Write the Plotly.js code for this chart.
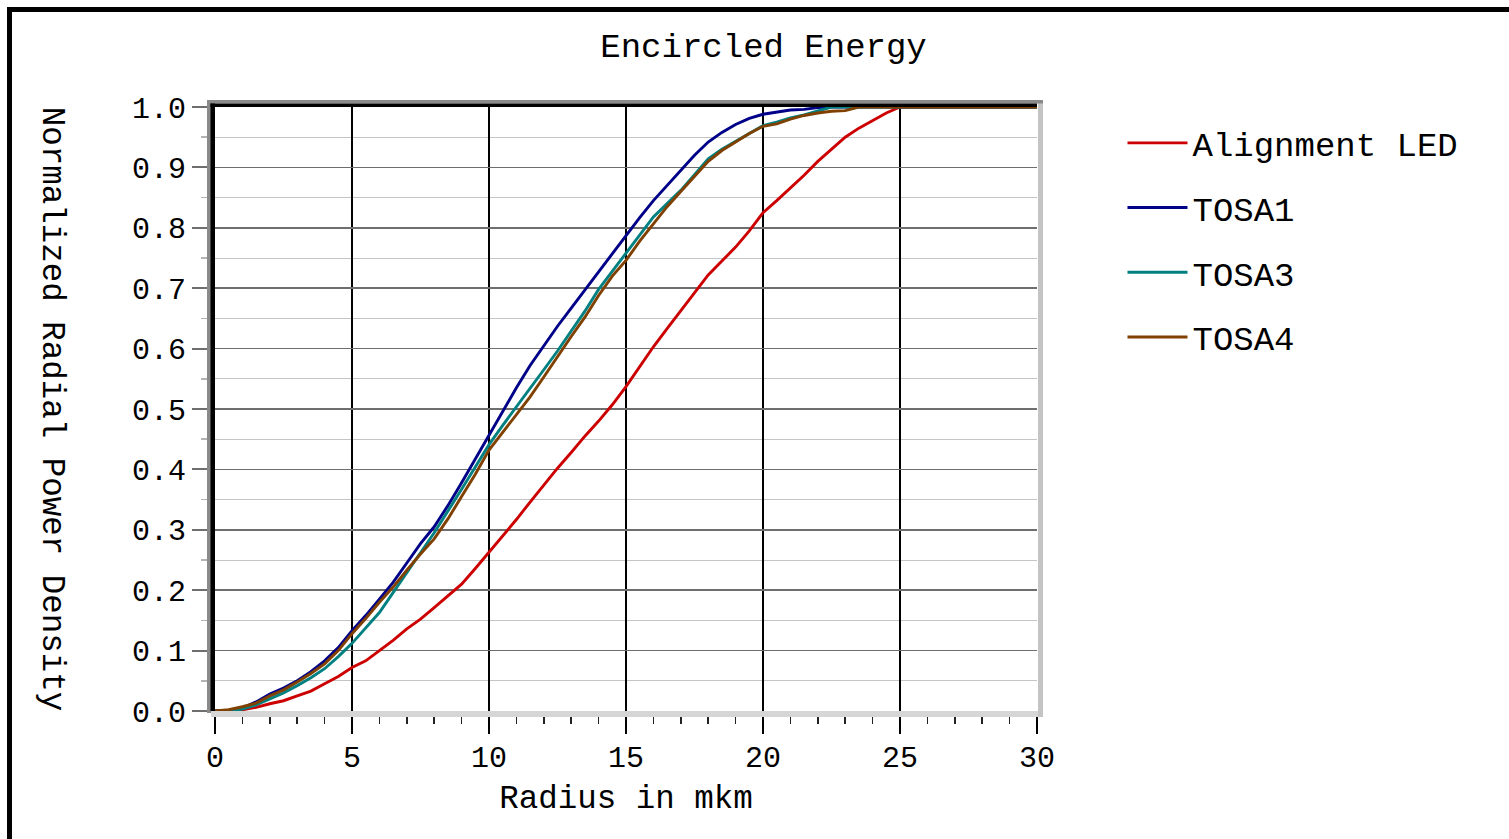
<!DOCTYPE html>
<html>
<head>
<meta charset="utf-8">
<script src="https://cdn.plot.ly/plotly-3.0.1.min.js"></script>
<style>
  html, body { margin: 0; padding: 0; background: #ffffff; overflow: hidden; }
  #chart { position: absolute; left: 0; top: 0; width: 1509px; height: 839px; }
  #frame { position: absolute; left: 7px; top: 7px; width: 3000px; height: 3000px;
           border-left: 5px solid #000; border-top: 5px solid #000; pointer-events: none; }
</style>
</head>
<body>
<div id="chart"></div>
<div id="frame"></div>
<script>
// Radius (mkm) sample positions
const radius = [0,0.5,1,1.5,2,2.5,3,3.5,4,4.5,5,5.5,6,6.5,7,7.5,8,8.5,9,9.5,10,10.5,11,11.5,12,12.5,13,13.5,14,14.5,15,15.5,16,16.5,17,17.5,18,18.5,19,19.5,20,20.5,21,21.5,22,22.5,23,23.5,24,24.5,25,25.5,26,27,28,29,30];

const alignmentLED = [0,0,0.002,0.006,0.012,0.017,0.025,0.033,0.045,0.057,0.072,0.083,0.1,0.117,0.136,0.152,0.171,0.19,0.21,0.236,0.263,0.29,0.317,0.346,0.374,0.402,0.428,0.455,0.48,0.507,0.537,0.57,0.603,0.633,0.662,0.692,0.722,0.745,0.768,0.795,0.825,0.845,0.866,0.887,0.91,0.93,0.95,0.965,0.977,0.99,1.0,1.0,1.0,1.0,1.0,1.0,1.0];

const tosa1 = [0,0,0.005,0.015,0.028,0.038,0.05,0.065,0.083,0.105,0.133,0.158,0.185,0.213,0.245,0.277,0.305,0.34,0.378,0.417,0.456,0.497,0.535,0.572,0.605,0.637,0.667,0.697,0.729,0.759,0.788,0.817,0.845,0.87,0.895,0.92,0.942,0.958,0.971,0.981,0.988,0.992,0.995,0.996,0.999,1.0,1.0,1.0,1.0,1.0,1.0,1.0,1.0,1.0,1.0,1.0,1.0];

const tosa3 = [0,0,0.003,0.01,0.02,0.03,0.042,0.055,0.07,0.09,0.112,0.137,0.163,0.196,0.23,0.262,0.295,0.33,0.367,0.404,0.441,0.473,0.503,0.535,0.565,0.596,0.628,0.662,0.698,0.728,0.757,0.789,0.818,0.84,0.862,0.888,0.914,0.93,0.943,0.955,0.969,0.975,0.982,0.987,0.993,1.0,1.0,1.0,1.0,1.0,1.0,1.0,1.0,1.0,1.0,1.0,1.0];

const tosa4 = [0,0.002,0.007,0.013,0.025,0.035,0.048,0.062,0.078,0.1,0.128,0.153,0.18,0.205,0.233,0.26,0.285,0.318,0.355,0.392,0.432,0.461,0.49,0.52,0.553,0.587,0.62,0.652,0.688,0.72,0.746,0.778,0.807,0.835,0.86,0.885,0.91,0.928,0.942,0.956,0.968,0.972,0.98,0.986,0.99,0.993,0.994,1.0,1.0,1.0,1.0,1.0,1.0,1.0,1.0,1.0,1.0];

const seriesNames = ["Alignment LED", "TOSA1", "TOSA3", "TOSA4"];
const seriesValues = [alignmentLED, tosa1, tosa3, tosa4];
const seriesColors = ["#cc0000", "#000088", "#008080", "#804000"];

const titleText = "Encircled Energy";
const xTitleText = "Radius in mkm";
const yTitleText = "Normalized Radial Power Density";

const FONT = "Liberation Mono, DejaVu Sans Mono, monospace";

const traces = seriesNames.map((name, i) => ({
  type: "scatter",
  mode: "lines",
  name: name,
  legendgroup: "g" + i,
  x: radius,
  y: seriesValues[i],
  line: { color: seriesColors[i], width: 2.9 },
  hoverinfo: "skip"
}));

function pxRect(xa, x0, x1, ya, y0, y1, color) {
  return { type: "rect", xref: "paper", yref: "paper",
    xsizemode: "pixel", ysizemode: "pixel", xanchor: xa, yanchor: ya,
    x0: x0, x1: x1, y0: y0, y1: y1,
    fillcolor: color, line: { width: 0 }, layer: "above" };
}

const W = 822, H = 604;
const shapes = [
  pxRect(0, -4, W + 6, 0, -6, 0, "#d6d6d6"),
  pxRect(1, 1, 6, 0, -6, H + 7, "#c4c4c4"),
  pxRect(0, -8, -4, 0, -2, H + 7, "#8a8a8a"),
  pxRect(0, -8, W + 6, 1, 3.5, 7, "#8a8a8a"),
  pxRect(0, -4.5, 0, 0, 0, H + 3.5, "#000000"),
  pxRect(0, -4.5, W, 1, 0, 3.5, "#000000")
];

const layout = {
  width: 1509, height: 839,
  paper_bgcolor: "#ffffff", plot_bgcolor: "#ffffff",
  margin: { l: 215, r: 472, t: 107, b: 128, pad: 0 },
  font: { family: FONT, color: "#000000", size: 30 },
  title: { text: titleText, font: { family: FONT, size: 34, color: "#000" },
           xref: "container", yref: "container", x: 0.506, xanchor: "center",
           y: 0.946, yanchor: "middle" },
  showlegend: true,
  legend: {
    x: 1.104, xanchor: "left", y: 0.988, yanchor: "top",
    font: { family: FONT, size: 34, color: "#000" },
    bgcolor: "rgba(0,0,0,0)", borderwidth: 0,
    itemwidth: 60, tracegroupgap: 17.5, traceorder: "grouped",
    itemclick: false, itemdoubleclick: false
  },
  xaxis: {
    range: [0, 30], dtick: 5, tick0: 0,
    showgrid: true, gridcolor: "#000000", gridwidth: 1.2,
    zeroline: false, showline: false,
    ticks: "outside", ticklen: 22, tickwidth: 1.5, tickcolor: "#000",
    ticklabelstandoff: -3,
    tickfont: { family: FONT, size: 30, color: "#000" },
    minor: { dtick: 1, ticks: "outside", ticklen: 12, tickwidth: 1.5, tickcolor: "#222", showgrid: false },
    title: { text: xTitleText, font: { family: FONT, size: 32.5, color: "#000" }, standoff: 10 },
    fixedrange: true
  },
  yaxis: {
    range: [0, 1], dtick: 0.1, tick0: 0, tickformat: ".1f",
    showgrid: true, gridcolor: "#6e6e6e", gridwidth: 1.6,
    zeroline: false, showline: false,
    ticks: "outside", ticklen: 22, tickwidth: 2, tickcolor: "#6e6e6e",
    tickfont: { family: FONT, size: 30, color: "#000" },
    minor: { dtick: 0.05, ticks: "outside", ticklen: 13, tickwidth: 1.5, tickcolor: "#b4b4b4",
             showgrid: true, gridcolor: "#c4c4c4", gridwidth: 1 },
    fixedrange: true
  },
  annotations: [{
    text: yTitleText, textangle: 90,
    xref: "paper", yref: "paper", x: -0.198, y: 0.5,
    xanchor: "center", yanchor: "middle", showarrow: false,
    font: { family: FONT, size: 32.5, color: "#000" }
  }],
  shapes: shapes
};

Plotly.newPlot("chart", traces, layout, { displayModeBar: false, staticPlot: true });
</script>
</body>
</html>
